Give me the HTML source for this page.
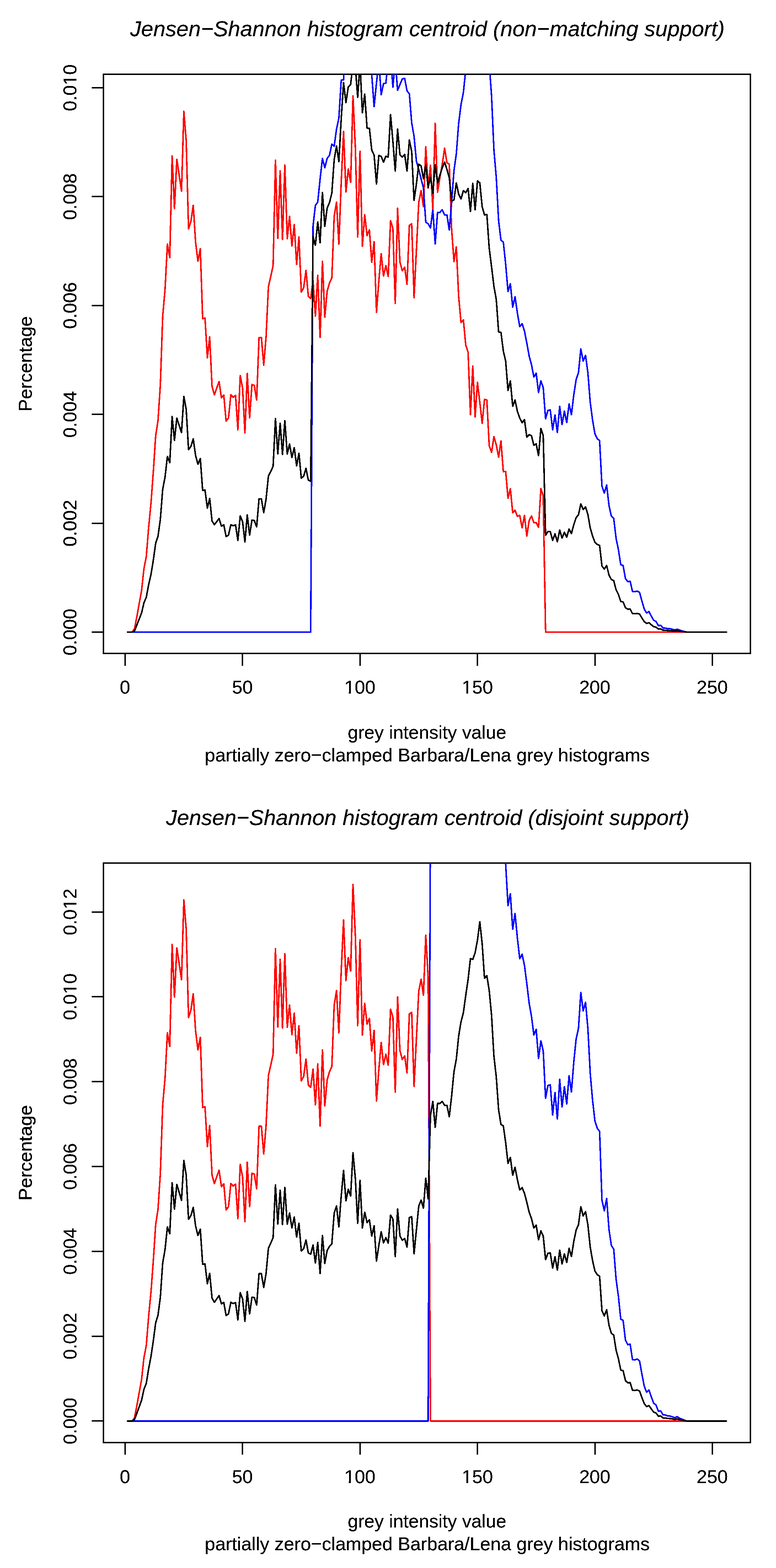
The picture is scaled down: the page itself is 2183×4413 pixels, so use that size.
<!DOCTYPE html><html><head><meta charset="utf-8"><title>Jensen-Shannon histogram centroid</title><style>html,body{margin:0;padding:0;background:#fff;overflow:hidden}svg{display:block}text{font-family:"Liberation Sans", Arial, Helvetica, sans-serif;fill:#000}</style></head><body>
<svg width="2183" height="4413" viewBox="0 0 2183 4413">
<rect width="2183" height="4413" fill="#fff"/>
<defs><filter id="bin" x="0" y="0" width="2183" height="4413" filterUnits="userSpaceOnUse"><feComponentTransfer><feFuncA type="discrete" tableValues="0 1 1"/></feComponentTransfer></filter>
<clipPath id="c0"><rect x="291.0" y="208.9" width="1819.9" height="1630.1"/></clipPath>
<clipPath id="c1"><rect x="291.0" y="2428.9" width="1819.9" height="1631.0"/></clipPath>
</defs>
<g clip-path="url(#c0)">
<polyline points="358.6,1778.9 365.2,1778.9 371.8,1778.9 378.4,1769.7 385.0,1735.5 391.6,1698.8 398.3,1662.0 404.9,1600.7 411.5,1567.0 418.1,1484.9 424.7,1416.6 431.3,1327.9 437.9,1226.6 444.5,1183.7 451.1,1082.5 457.7,889.6 464.3,814.6 470.9,686.9 477.6,725.2 484.2,438.6 490.8,586.8 497.4,448.5 504.0,492.2 510.6,538.0 517.2,313.3 523.8,395.6 530.4,644.2 537.0,623.6 543.6,577.7 550.2,681.5 556.8,735.1 563.5,699.9 570.1,897.2 576.7,894.8 583.3,1007.2 589.9,948.2 596.5,1087.6 603.1,1111.2 609.7,1092.1 616.3,1073.7 622.9,1119.7 629.5,1111.9 636.1,1185.3 642.8,1176.1 649.4,1111.2 656.0,1118.1 662.6,1112.7 669.2,1209.7 675.8,1056.9 682.4,1092.1 689.0,1218.2 695.6,1050.8 702.2,1176.1 708.8,1082.2 715.4,1084.5 722.0,1125.7 728.7,949.9 735.3,949.9 741.9,1027.8 748.5,948.0 755.1,807.0 761.7,778.1 768.3,747.3 774.9,450.9 781.5,670.9 788.1,480.6 794.7,673.9 801.3,464.6 808.0,671.6 814.6,609.0 821.2,692.3 827.8,631.9 834.4,744.3 841.0,667.1 847.6,822.2 854.2,809.9 860.8,761.1 867.4,833.7 874.0,840.3 880.6,789.3 887.2,889.8 893.9,774.8 900.5,949.5 907.1,735.5 913.7,892.7 920.3,819.9 926.9,796.6 933.5,782.0 940.1,609.0 946.7,568.7 953.3,687.4 959.9,512.9 966.5,370.0 973.2,540.2 979.8,475.5 986.4,513.3 993.0,270.0 999.6,412.3 1006.2,667.0 1012.8,425.7 1019.4,693.2 1026.0,604.3 1032.6,662.7 1039.2,646.7 1045.8,738.4 1052.4,680.4 1059.1,879.1 1065.7,791.3 1072.3,714.1 1078.9,776.7 1085.5,747.6 1092.1,778.2 1098.7,621.0 1105.3,642.8 1111.9,853.9 1118.5,586.0 1125.1,737.4 1131.7,762.2 1138.4,752.0 1145.0,800.0 1151.6,634.1 1158.2,629.7 1164.8,837.9 1171.4,704.0 1178.0,570.0 1184.6,536.5 1191.2,581.7 1197.8,412.8 1204.4,529.3 1211.0,465.2 1217.6,587.5 1224.3,347.3 1230.9,540.9 1237.5,500.1 1244.1,462.3 1250.7,417.2 1257.3,457.9 1263.9,462.3 1270.5,645.7 1277.1,736.0 1283.7,695.2 1290.3,835.0 1296.9,907.5 1303.6,900.4 1310.2,970.9 1316.8,991.3 1323.4,1167.1 1330.0,1030.5 1336.6,1173.4 1343.2,1076.1 1349.8,1132.6 1356.4,1191.4 1363.0,1123.9 1369.6,1125.5 1376.2,1253.9 1382.8,1273.3 1389.5,1228.8 1396.1,1252.0 1402.7,1286.6 1409.3,1240.7 1415.9,1327.5 1422.5,1326.7 1429.1,1402.4 1435.7,1375.5 1442.3,1443.2 1448.9,1436.0 1455.5,1453.4 1462.1,1450.5 1468.8,1485.5 1475.4,1450.5 1482.0,1508.8 1488.6,1465.1 1495.2,1452.0 1501.8,1470.9 1508.4,1470.9 1515.0,1484.0 1521.6,1374.8 1528.2,1395.2 1534.8,1778.9 1541.4,1778.9 1548.0,1778.9 1554.7,1778.9 1561.3,1778.9 1567.9,1778.9 1574.5,1778.9 1581.1,1778.9 1587.7,1778.9 1594.3,1778.9 1600.9,1778.9 1607.5,1778.9 1614.1,1778.9 1620.7,1778.9 1627.3,1778.9 1634.0,1778.9 1640.6,1778.9 1647.2,1778.9 1653.8,1778.9 1660.4,1778.9 1667.0,1778.9 1673.6,1778.9 1680.2,1778.9 1686.8,1778.9 1693.4,1778.9 1700.0,1778.9 1706.6,1778.9 1713.2,1778.9 1719.9,1778.9 1726.5,1778.9 1733.1,1778.9 1739.7,1778.9 1746.3,1778.9 1752.9,1778.9 1759.5,1778.9 1766.1,1778.9 1772.7,1778.9 1779.3,1778.9 1785.9,1778.9 1792.5,1778.9 1799.2,1778.9 1805.8,1778.9 1812.4,1778.9 1819.0,1778.9 1825.6,1778.9 1832.2,1778.9 1838.8,1778.9 1845.4,1778.9 1852.0,1778.9 1858.6,1778.9 1865.2,1778.9 1871.8,1778.9 1878.4,1778.9 1885.1,1778.9 1891.7,1778.9 1898.3,1778.9 1904.9,1778.9 1911.5,1778.9 1918.1,1778.9 1924.7,1778.9 1931.3,1778.9 1937.9,1778.9 1944.5,1778.9 1951.1,1778.9 1957.7,1778.9 1964.4,1778.9 1971.0,1778.9 1977.6,1778.9 1984.2,1778.9 1990.8,1778.9 1997.4,1778.9 2004.0,1778.9 2010.6,1778.9 2017.2,1778.9 2023.8,1778.9 2030.4,1778.9 2037.0,1778.9 2043.6,1778.9" fill="none" stroke="#ff0000" stroke-width="4.3" stroke-linejoin="round" stroke-linecap="round" shape-rendering="crispEdges"/>
</g>
<rect x="291.0" y="208.9" width="1819.9" height="1630.1" fill="none" stroke="#000" stroke-width="4.0" shape-rendering="crispEdges"/>
<g clip-path="url(#c0)">
<polyline points="358.6,1778.9 365.2,1778.9 371.8,1778.9 378.4,1778.9 385.0,1778.9 391.6,1778.9 398.3,1778.9 404.9,1778.9 411.5,1778.9 418.1,1778.9 424.7,1778.9 431.3,1778.9 437.9,1778.9 444.5,1778.9 451.1,1778.9 457.7,1778.9 464.3,1778.9 470.9,1778.9 477.6,1778.9 484.2,1778.9 490.8,1778.9 497.4,1778.9 504.0,1778.9 510.6,1778.9 517.2,1778.9 523.8,1778.9 530.4,1778.9 537.0,1778.9 543.6,1778.9 550.2,1778.9 556.8,1778.9 563.5,1778.9 570.1,1778.9 576.7,1778.9 583.3,1778.9 589.9,1778.9 596.5,1778.9 603.1,1778.9 609.7,1778.9 616.3,1778.9 622.9,1778.9 629.5,1778.9 636.1,1778.9 642.8,1778.9 649.4,1778.9 656.0,1778.9 662.6,1778.9 669.2,1778.9 675.8,1778.9 682.4,1778.9 689.0,1778.9 695.6,1778.9 702.2,1778.9 708.8,1778.9 715.4,1778.9 722.0,1778.9 728.7,1778.9 735.3,1778.9 741.9,1778.9 748.5,1778.9 755.1,1778.9 761.7,1778.9 768.3,1778.9 774.9,1778.9 781.5,1778.9 788.1,1778.9 794.7,1778.9 801.3,1778.9 808.0,1778.9 814.6,1778.9 821.2,1778.9 827.8,1778.9 834.4,1778.9 841.0,1778.9 847.6,1778.9 854.2,1778.9 860.8,1778.9 867.4,1778.9 874.0,1778.9 880.6,636.5 887.2,578.1 893.9,568.7 900.5,503.7 907.1,445.8 913.7,471.9 920.3,445.8 926.9,437.1 933.5,405.6 940.1,411.5 946.7,363.3 953.3,332.6 959.9,225.7 966.5,224.9 973.2,63.1 979.8,17.1 986.4,-28.9 993.0,-59.5 999.6,-28.9 1006.2,17.1 1012.8,47.7 1019.4,63.1 1026.0,93.7 1032.6,124.3 1039.2,155.0 1045.8,210.2 1052.4,300.0 1059.1,233.7 1065.7,170.3 1072.3,266.5 1078.9,235.2 1085.5,234.1 1092.1,170.3 1098.7,155.0 1105.3,245.4 1111.9,170.3 1118.5,254.1 1125.1,238.1 1131.7,222.1 1138.4,220.6 1145.0,255.6 1151.6,264.3 1158.2,345.8 1164.8,383.7 1171.4,453.6 1178.0,476.9 1184.6,503.1 1191.2,529.3 1197.8,625.3 1204.4,629.7 1211.0,641.4 1217.6,590.4 1224.3,686.5 1230.9,597.7 1237.5,597.7 1244.1,590.4 1250.7,605.0 1257.3,605.0 1263.9,647.2 1270.5,570.0 1277.1,479.8 1283.7,433.2 1290.3,347.1 1296.9,294.4 1303.6,260.0 1310.2,196.1 1316.8,136.9 1323.4,59.2 1330.0,62.3 1336.6,37.4 1343.2,-9.3 1349.8,-77.7 1356.4,3.2 1363.0,132.3 1369.6,122.9 1376.2,177.4 1382.8,269.7 1389.5,422.5 1396.1,499.3 1402.7,621.5 1409.3,676.3 1415.9,681.0 1422.5,743.0 1429.1,820.4 1435.7,798.6 1442.3,864.5 1448.9,835.3 1455.5,881.0 1462.1,919.3 1468.8,910.9 1475.4,931.8 1482.0,965.3 1488.6,1002.0 1495.2,1026.5 1501.8,1061.0 1508.4,1050.5 1515.0,1104.7 1521.6,1072.0 1528.2,1090.9 1534.8,1178.7 1541.4,1155.0 1548.0,1153.6 1554.7,1209.7 1561.3,1168.0 1567.9,1217.4 1574.5,1143.5 1581.1,1194.8 1587.7,1157.3 1594.3,1189.3 1600.9,1136.8 1607.5,1167.0 1614.1,1111.6 1620.7,1068.7 1627.3,1049.0 1634.0,982.2 1640.6,1016.1 1647.2,1000.2 1653.8,1048.7 1660.4,1132.1 1667.0,1182.5 1673.6,1220.9 1680.2,1234.5 1686.8,1240.4 1693.4,1368.2 1700.0,1387.9 1706.6,1365.1 1713.2,1422.7 1719.9,1452.8 1726.5,1459.1 1733.1,1514.8 1739.7,1547.1 1746.3,1589.3 1752.9,1591.6 1759.5,1628.4 1766.1,1637.0 1772.7,1635.7 1779.3,1664.7 1785.9,1665.3 1792.5,1663.5 1799.2,1667.3 1805.8,1691.7 1812.4,1714.1 1819.0,1725.3 1825.6,1721.2 1832.2,1733.9 1838.8,1745.7 1845.4,1749.0 1852.0,1760.7 1858.6,1760.1 1865.2,1767.5 1871.8,1767.7 1878.4,1769.5 1885.1,1769.6 1891.7,1771.1 1898.3,1772.9 1904.9,1770.8 1911.5,1773.3 1918.1,1775.4 1924.7,1777.1 1931.3,1778.9 1937.9,1778.9 1944.5,1778.9 1951.1,1778.9 1957.7,1778.9 1964.4,1778.9 1971.0,1778.9 1977.6,1778.9 1984.2,1778.9 1990.8,1778.9 1997.4,1778.9 2004.0,1778.9 2010.6,1778.9 2017.2,1778.9 2023.8,1778.9 2030.4,1778.9 2037.0,1778.9 2043.6,1778.9" fill="none" stroke="#0000ff" stroke-width="4.3" stroke-linejoin="round" stroke-linecap="round" shape-rendering="crispEdges"/>
<polyline points="358.6,1778.9 365.2,1778.9 371.8,1778.9 378.4,1775.8 385.0,1759.2 391.6,1742.2 398.3,1725.1 404.9,1696.7 411.5,1681.0 418.1,1645.7 424.7,1617.2 431.3,1576.7 437.9,1529.1 444.5,1509.2 451.1,1461.5 457.7,1377.1 464.3,1342.7 470.9,1284.7 477.6,1302.1 484.2,1172.4 490.8,1239.5 497.4,1176.9 504.0,1196.9 510.6,1217.5 517.2,1115.7 523.8,1151.8 530.4,1265.5 537.0,1256.5 543.6,1235.2 550.2,1282.0 556.8,1306.5 563.5,1290.5 570.1,1380.3 576.7,1379.0 583.3,1429.9 589.9,1402.8 596.5,1466.3 603.1,1476.7 609.7,1468.1 616.3,1459.5 622.9,1480.8 629.5,1476.9 636.1,1510.3 642.8,1506.0 649.4,1476.7 656.0,1479.8 662.6,1477.1 669.2,1520.9 675.8,1452.1 682.4,1468.1 689.0,1525.0 695.6,1449.3 702.2,1506.0 708.8,1463.6 715.4,1464.9 722.0,1482.9 728.7,1403.8 735.3,1403.8 741.9,1442.6 748.5,1404.9 755.1,1339.5 761.7,1327.1 768.3,1312.2 774.9,1178.1 781.5,1277.4 788.1,1191.4 794.7,1278.8 801.3,1184.1 808.0,1277.6 814.6,1249.6 821.2,1287.4 827.8,1259.9 834.4,1310.8 841.0,1275.8 847.6,1345.8 854.2,1340.2 860.8,1318.2 867.4,1351.4 874.0,1354.4 880.6,665.6 887.2,690.3 893.9,624.8 900.5,683.1 907.1,541.8 913.7,637.3 920.3,585.9 926.9,570.3 933.5,543.4 940.1,449.4 946.7,410.7 953.3,454.9 959.9,334.5 966.5,232.6 973.2,288.8 979.8,244.7 986.4,237.8 993.0,179.1 999.6,187.7 1006.2,274.1 1012.8,179.1 1019.4,317.5 1026.0,264.6 1032.6,360.6 1039.2,360.9 1045.8,422.5 1052.4,436.5 1059.1,517.8 1065.7,437.4 1072.3,440.2 1078.9,456.4 1085.5,439.7 1092.1,442.2 1098.7,322.5 1105.3,398.2 1111.9,481.2 1118.5,363.3 1125.1,436.1 1131.7,441.9 1138.4,434.6 1145.0,481.2 1151.6,393.9 1158.2,427.4 1164.8,564.2 1171.4,517.6 1178.0,462.3 1184.6,466.7 1191.2,503.1 1197.8,465.2 1204.4,527.8 1211.0,498.7 1217.6,543.8 1224.3,463.8 1230.9,514.7 1237.5,492.9 1244.1,472.5 1250.7,456.5 1257.3,476.9 1263.9,500.1 1270.5,565.7 1277.1,562.7 1283.7,514.7 1290.3,546.7 1296.9,559.8 1303.6,536.5 1310.2,542.4 1316.8,530.7 1323.4,594.8 1330.0,516.2 1336.6,590.4 1343.2,508.9 1349.8,514.7 1356.4,581.7 1363.0,605.0 1369.6,603.5 1376.2,698.1 1382.8,750.5 1389.5,805.9 1396.1,842.9 1402.7,934.2 1409.3,935.4 1415.9,987.9 1422.5,1015.8 1429.1,1098.7 1435.7,1071.8 1442.3,1143.4 1448.9,1125.8 1455.5,1157.8 1462.1,1176.7 1468.8,1189.7 1475.4,1181.2 1482.0,1230.0 1488.6,1223.4 1495.2,1226.3 1501.8,1253.3 1508.4,1248.9 1515.0,1282.4 1521.6,1206.0 1528.2,1226.3 1534.8,1506.4 1541.4,1496.0 1548.0,1496.4 1554.7,1520.7 1561.3,1502.5 1567.9,1524.6 1574.5,1491.9 1581.1,1514.4 1587.7,1497.9 1594.3,1511.7 1600.9,1488.9 1607.5,1501.6 1614.1,1476.7 1620.7,1456.8 1627.3,1448.7 1634.0,1418.2 1640.6,1433.9 1647.2,1426.7 1653.8,1447.9 1660.4,1485.7 1667.0,1508.7 1673.6,1526.2 1680.2,1532.2 1686.8,1535.0 1693.4,1593.0 1700.0,1601.8 1706.6,1591.6 1713.2,1618.5 1719.9,1631.1 1726.5,1634.0 1733.1,1659.7 1739.7,1672.9 1746.3,1692.8 1752.9,1694.1 1759.5,1710.6 1766.1,1714.5 1772.7,1714.2 1779.3,1727.0 1785.9,1727.1 1792.5,1726.5 1799.2,1728.2 1805.8,1739.4 1812.4,1749.5 1819.0,1754.6 1825.6,1752.6 1832.2,1758.4 1838.8,1763.6 1845.4,1764.9 1852.0,1770.4 1858.6,1770.2 1865.2,1773.5 1871.8,1773.9 1878.4,1774.6 1885.1,1774.9 1891.7,1775.6 1898.3,1776.4 1904.9,1775.2 1911.5,1776.4 1918.1,1777.3 1924.7,1778.1 1931.3,1778.9 1937.9,1778.9 1944.5,1778.9 1951.1,1778.9 1957.7,1778.9 1964.4,1778.9 1971.0,1778.9 1977.6,1778.9 1984.2,1778.9 1990.8,1778.9 1997.4,1778.9 2004.0,1778.9 2010.6,1778.9 2017.2,1778.9 2023.8,1778.9 2030.4,1778.9 2037.0,1778.9 2043.6,1778.9" fill="none" stroke="#000000" stroke-width="4.3" stroke-linejoin="round" stroke-linecap="round" shape-rendering="crispEdges"/>
</g>
<line x1="352.0" y1="1839.0" x2="352.0" y2="1873.5" stroke="#000" stroke-width="4.0" shape-rendering="crispEdges"/>
<line x1="682.4" y1="1839.0" x2="682.4" y2="1873.5" stroke="#000" stroke-width="4.0" shape-rendering="crispEdges"/>
<line x1="1012.8" y1="1839.0" x2="1012.8" y2="1873.5" stroke="#000" stroke-width="4.0" shape-rendering="crispEdges"/>
<line x1="1343.2" y1="1839.0" x2="1343.2" y2="1873.5" stroke="#000" stroke-width="4.0" shape-rendering="crispEdges"/>
<line x1="1673.6" y1="1839.0" x2="1673.6" y2="1873.5" stroke="#000" stroke-width="4.0" shape-rendering="crispEdges"/>
<line x1="2004.0" y1="1839.0" x2="2004.0" y2="1873.5" stroke="#000" stroke-width="4.0" shape-rendering="crispEdges"/>
<line x1="291.0" y1="1778.9" x2="258.0" y2="1778.9" stroke="#000" stroke-width="4.0" shape-rendering="crispEdges"/>
<line x1="291.0" y1="1472.5" x2="258.0" y2="1472.5" stroke="#000" stroke-width="4.0" shape-rendering="crispEdges"/>
<line x1="291.0" y1="1166.1" x2="258.0" y2="1166.1" stroke="#000" stroke-width="4.0" shape-rendering="crispEdges"/>
<line x1="291.0" y1="859.7" x2="258.0" y2="859.7" stroke="#000" stroke-width="4.0" shape-rendering="crispEdges"/>
<line x1="291.0" y1="553.3" x2="258.0" y2="553.3" stroke="#000" stroke-width="4.0" shape-rendering="crispEdges"/>
<line x1="291.0" y1="246.9" x2="258.0" y2="246.9" stroke="#000" stroke-width="4.0" shape-rendering="crispEdges"/>
<g clip-path="url(#c1)">
<polyline points="358.6,3999.4 365.2,3999.4 371.8,3999.4 378.4,3990.2 385.0,3956.0 391.6,3919.2 398.3,3882.4 404.9,3821.1 411.5,3787.3 418.1,3705.1 424.7,3636.8 431.3,3548.0 437.9,3446.7 444.5,3403.7 451.1,3302.4 457.7,3109.3 464.3,3034.3 470.9,2906.5 477.6,2944.8 484.2,2658.0 490.8,2806.3 497.4,2667.9 504.0,2711.5 510.6,2757.4 517.2,2532.5 523.8,2614.9 530.4,2863.7 537.0,2843.1 543.6,2797.1 550.2,2901.1 556.8,2954.7 563.5,2919.5 570.1,3116.9 576.7,3114.6 583.3,3227.0 589.9,3168.0 596.5,3307.5 603.1,3331.1 609.7,3312.0 616.3,3293.6 622.9,3339.6 629.5,3331.9 636.1,3405.3 642.8,3396.1 649.4,3331.1 656.0,3338.0 662.6,3332.6 669.2,3429.7 675.8,3276.8 682.4,3312.0 689.0,3438.2 695.6,3270.7 702.2,3396.1 708.8,3302.1 715.4,3304.4 722.0,3345.6 728.7,3169.6 735.3,3169.6 741.9,3247.7 748.5,3167.8 755.1,3026.7 761.7,2997.8 768.3,2967.0 774.9,2670.2 781.5,2890.4 788.1,2700.0 794.7,2893.5 801.3,2683.9 808.0,2891.2 814.6,2828.5 821.2,2911.9 827.8,2851.4 834.4,2963.9 841.0,2886.6 847.6,3041.9 854.2,3029.6 860.8,2980.7 867.4,3053.4 874.0,3060.0 880.6,3009.0 887.2,3109.5 893.9,2994.4 900.5,3169.2 907.1,2955.1 913.7,3112.4 920.3,3039.6 926.9,3016.3 933.5,3001.7 940.1,2828.5 946.7,2788.2 953.3,2907.0 959.9,2732.3 966.5,2589.3 973.2,2759.6 979.8,2694.9 986.4,2732.7 993.0,2489.2 999.6,2631.6 1006.2,2886.6 1012.8,2645.0 1019.4,2912.8 1026.0,2823.8 1032.6,2882.2 1039.2,2866.2 1045.8,2958.0 1052.4,2900.0 1059.1,3098.8 1065.7,3010.9 1072.3,2933.7 1078.9,2996.4 1085.5,2967.2 1092.1,2997.8 1098.7,2840.5 1105.3,2862.3 1111.9,3073.6 1118.5,2805.5 1125.1,2957.0 1131.7,2981.8 1138.4,2971.6 1145.0,3019.7 1151.6,2853.6 1158.2,2849.2 1164.8,3057.6 1171.4,2923.5 1178.0,2789.5 1184.6,2756.0 1191.2,2801.1 1197.8,2632.1 1204.4,2748.7 1211.0,3999.4 1217.6,3999.4 1224.3,3999.4 1230.9,3999.4 1237.5,3999.4 1244.1,3999.4 1250.7,3999.4 1257.3,3999.4 1263.9,3999.4 1270.5,3999.4 1277.1,3999.4 1283.7,3999.4 1290.3,3999.4 1296.9,3999.4 1303.6,3999.4 1310.2,3999.4 1316.8,3999.4 1323.4,3999.4 1330.0,3999.4 1336.6,3999.4 1343.2,3999.4 1349.8,3999.4 1356.4,3999.4 1363.0,3999.4 1369.6,3999.4 1376.2,3999.4 1382.8,3999.4 1389.5,3999.4 1396.1,3999.4 1402.7,3999.4 1409.3,3999.4 1415.9,3999.4 1422.5,3999.4 1429.1,3999.4 1435.7,3999.4 1442.3,3999.4 1448.9,3999.4 1455.5,3999.4 1462.1,3999.4 1468.8,3999.4 1475.4,3999.4 1482.0,3999.4 1488.6,3999.4 1495.2,3999.4 1501.8,3999.4 1508.4,3999.4 1515.0,3999.4 1521.6,3999.4 1528.2,3999.4 1534.8,3999.4 1541.4,3999.4 1548.0,3999.4 1554.7,3999.4 1561.3,3999.4 1567.9,3999.4 1574.5,3999.4 1581.1,3999.4 1587.7,3999.4 1594.3,3999.4 1600.9,3999.4 1607.5,3999.4 1614.1,3999.4 1620.7,3999.4 1627.3,3999.4 1634.0,3999.4 1640.6,3999.4 1647.2,3999.4 1653.8,3999.4 1660.4,3999.4 1667.0,3999.4 1673.6,3999.4 1680.2,3999.4 1686.8,3999.4 1693.4,3999.4 1700.0,3999.4 1706.6,3999.4 1713.2,3999.4 1719.9,3999.4 1726.5,3999.4 1733.1,3999.4 1739.7,3999.4 1746.3,3999.4 1752.9,3999.4 1759.5,3999.4 1766.1,3999.4 1772.7,3999.4 1779.3,3999.4 1785.9,3999.4 1792.5,3999.4 1799.2,3999.4 1805.8,3999.4 1812.4,3999.4 1819.0,3999.4 1825.6,3999.4 1832.2,3999.4 1838.8,3999.4 1845.4,3999.4 1852.0,3999.4 1858.6,3999.4 1865.2,3999.4 1871.8,3999.4 1878.4,3999.4 1885.1,3999.4 1891.7,3999.4 1898.3,3999.4 1904.9,3999.4 1911.5,3999.4 1918.1,3999.4 1924.7,3999.4 1931.3,3999.4 1937.9,3999.4 1944.5,3999.4 1951.1,3999.4 1957.7,3999.4 1964.4,3999.4 1971.0,3999.4 1977.6,3999.4 1984.2,3999.4 1990.8,3999.4 1997.4,3999.4 2004.0,3999.4 2010.6,3999.4 2017.2,3999.4 2023.8,3999.4 2030.4,3999.4 2037.0,3999.4 2043.6,3999.4" fill="none" stroke="#ff0000" stroke-width="4.3" stroke-linejoin="round" stroke-linecap="round" shape-rendering="crispEdges"/>
</g>
<rect x="291.0" y="2428.9" width="1819.9" height="1631.0" fill="none" stroke="#000" stroke-width="4.0" shape-rendering="crispEdges"/>
<g clip-path="url(#c1)">
<polyline points="358.6,3999.4 365.2,3999.4 371.8,3999.4 378.4,3999.4 385.0,3999.4 391.6,3999.4 398.3,3999.4 404.9,3999.4 411.5,3999.4 418.1,3999.4 424.7,3999.4 431.3,3999.4 437.9,3999.4 444.5,3999.4 451.1,3999.4 457.7,3999.4 464.3,3999.4 470.9,3999.4 477.6,3999.4 484.2,3999.4 490.8,3999.4 497.4,3999.4 504.0,3999.4 510.6,3999.4 517.2,3999.4 523.8,3999.4 530.4,3999.4 537.0,3999.4 543.6,3999.4 550.2,3999.4 556.8,3999.4 563.5,3999.4 570.1,3999.4 576.7,3999.4 583.3,3999.4 589.9,3999.4 596.5,3999.4 603.1,3999.4 609.7,3999.4 616.3,3999.4 622.9,3999.4 629.5,3999.4 636.1,3999.4 642.8,3999.4 649.4,3999.4 656.0,3999.4 662.6,3999.4 669.2,3999.4 675.8,3999.4 682.4,3999.4 689.0,3999.4 695.6,3999.4 702.2,3999.4 708.8,3999.4 715.4,3999.4 722.0,3999.4 728.7,3999.4 735.3,3999.4 741.9,3999.4 748.5,3999.4 755.1,3999.4 761.7,3999.4 768.3,3999.4 774.9,3999.4 781.5,3999.4 788.1,3999.4 794.7,3999.4 801.3,3999.4 808.0,3999.4 814.6,3999.4 821.2,3999.4 827.8,3999.4 834.4,3999.4 841.0,3999.4 847.6,3999.4 854.2,3999.4 860.8,3999.4 867.4,3999.4 874.0,3999.4 880.6,3999.4 887.2,3999.4 893.9,3999.4 900.5,3999.4 907.1,3999.4 913.7,3999.4 920.3,3999.4 926.9,3999.4 933.5,3999.4 940.1,3999.4 946.7,3999.4 953.3,3999.4 959.9,3999.4 966.5,3999.4 973.2,3999.4 979.8,3999.4 986.4,3999.4 993.0,3999.4 999.6,3999.4 1006.2,3999.4 1012.8,3999.4 1019.4,3999.4 1026.0,3999.4 1032.6,3999.4 1039.2,3999.4 1045.8,3999.4 1052.4,3999.4 1059.1,3999.4 1065.7,3999.4 1072.3,3999.4 1078.9,3999.4 1085.5,3999.4 1092.1,3999.4 1098.7,3999.4 1105.3,3999.4 1111.9,3999.4 1118.5,3999.4 1125.1,3999.4 1131.7,3999.4 1138.4,3999.4 1145.0,3999.4 1151.6,3999.4 1158.2,3999.4 1164.8,3999.4 1171.4,3999.4 1178.0,3999.4 1184.6,3999.4 1191.2,3999.4 1197.8,3999.4 1204.4,3999.4 1211.0,2277.6 1217.6,2200.4 1224.3,2345.9 1230.9,2211.5 1237.5,2211.5 1244.1,2200.4 1250.7,2222.5 1257.3,2222.5 1263.9,2286.4 1270.5,2169.6 1277.1,2033.0 1283.7,1962.5 1290.3,1832.1 1296.9,1752.4 1303.6,1700.3 1310.2,1603.6 1316.8,1514.1 1323.4,1396.3 1330.0,1401.0 1336.6,1363.4 1343.2,1292.7 1349.8,1189.1 1356.4,1311.6 1363.0,1507.0 1369.6,1492.9 1376.2,1575.3 1382.8,1715.1 1389.5,1946.2 1396.1,2062.6 1402.7,2247.5 1409.3,2330.5 1415.9,2337.5 1422.5,2431.5 1429.1,2548.6 1435.7,2515.5 1442.3,2615.3 1448.9,2571.1 1455.5,2640.3 1462.1,2698.3 1468.8,2685.6 1475.4,2717.2 1482.0,2768.0 1488.6,2823.5 1495.2,2860.6 1501.8,2912.8 1508.4,2896.9 1515.0,2978.9 1521.6,2929.4 1528.2,2957.9 1534.8,3090.9 1541.4,3055.1 1548.0,3053.0 1554.7,3137.8 1561.3,3074.7 1567.9,3149.4 1574.5,3037.6 1581.1,3115.3 1587.7,3058.5 1594.3,3107.0 1600.9,3027.5 1607.5,3073.2 1614.1,2989.4 1620.7,2924.4 1627.3,2894.6 1634.0,2793.5 1640.6,2844.7 1647.2,2820.8 1653.8,2894.2 1660.4,3020.4 1667.0,3096.6 1673.6,3154.8 1680.2,3175.3 1686.8,3184.3 1693.4,3377.8 1700.0,3407.5 1706.6,3373.1 1713.2,3460.3 1719.9,3505.7 1726.5,3515.3 1733.1,3599.6 1739.7,3648.6 1746.3,3712.5 1752.9,3715.9 1759.5,3771.7 1766.1,3784.6 1772.7,3782.7 1779.3,3826.5 1785.9,3827.4 1792.5,3824.7 1799.2,3830.5 1805.8,3867.4 1812.4,3901.3 1819.0,3918.3 1825.6,3912.1 1832.2,3931.2 1838.8,3949.1 1845.4,3954.1 1852.0,3971.9 1858.6,3970.9 1865.2,3982.1 1871.8,3982.4 1878.4,3985.1 1885.1,3985.4 1891.7,3987.6 1898.3,3990.4 1904.9,3987.2 1911.5,3991.0 1918.1,3994.1 1924.7,3996.6 1931.3,3999.4 1937.9,3999.4 1944.5,3999.4 1951.1,3999.4 1957.7,3999.4 1964.4,3999.4 1971.0,3999.4 1977.6,3999.4 1984.2,3999.4 1990.8,3999.4 1997.4,3999.4 2004.0,3999.4 2010.6,3999.4 2017.2,3999.4 2023.8,3999.4 2030.4,3999.4 2037.0,3999.4 2043.6,3999.4" fill="none" stroke="#0000ff" stroke-width="4.3" stroke-linejoin="round" stroke-linecap="round" shape-rendering="crispEdges"/>
<polyline points="358.6,3999.4 365.2,3999.4 371.8,3999.4 378.4,3994.8 385.0,3977.7 391.6,3959.3 398.3,3940.9 404.9,3910.2 411.5,3893.4 418.1,3852.3 424.7,3818.1 431.3,3773.7 437.9,3723.0 444.5,3701.6 451.1,3650.9 457.7,3554.4 464.3,3516.8 470.9,3452.9 477.6,3472.1 484.2,3328.7 490.8,3402.9 497.4,3333.6 504.0,3355.5 510.6,3378.4 517.2,3266.0 523.8,3307.1 530.4,3431.6 537.0,3421.3 543.6,3398.3 550.2,3450.2 556.8,3477.0 563.5,3459.4 570.1,3558.2 576.7,3557.0 583.3,3613.2 589.9,3583.7 596.5,3653.4 603.1,3665.3 609.7,3655.7 616.3,3646.5 622.9,3669.5 629.5,3665.6 636.1,3702.4 642.8,3697.8 649.4,3665.3 656.0,3668.7 662.6,3666.0 669.2,3714.6 675.8,3638.1 682.4,3655.7 689.0,3718.8 695.6,3635.0 702.2,3697.8 708.8,3650.7 715.4,3651.9 722.0,3672.5 728.7,3584.5 735.3,3584.5 741.9,3623.5 748.5,3583.6 755.1,3513.0 761.7,3498.6 768.3,3483.2 774.9,3334.8 781.5,3444.9 788.1,3349.7 794.7,3446.4 801.3,3341.7 808.0,3445.3 814.6,3414.0 821.2,3455.6 827.8,3425.4 834.4,3481.6 841.0,3443.0 847.6,3520.6 854.2,3514.5 860.8,3490.0 867.4,3526.4 874.0,3529.7 880.6,3504.2 887.2,3554.5 893.9,3496.9 900.5,3584.3 907.1,3477.2 913.7,3555.9 920.3,3519.5 926.9,3507.8 933.5,3500.5 940.1,3414.0 946.7,3393.8 953.3,3453.2 959.9,3365.9 966.5,3294.3 973.2,3379.5 979.8,3347.1 986.4,3366.0 993.0,3244.3 999.6,3315.5 1006.2,3443.0 1012.8,3322.2 1019.4,3456.1 1026.0,3411.6 1032.6,3440.8 1039.2,3432.8 1045.8,3478.7 1052.4,3449.7 1059.1,3549.1 1065.7,3505.2 1072.3,3466.6 1078.9,3497.9 1085.5,3483.3 1092.1,3498.6 1098.7,3419.9 1105.3,3430.9 1111.9,3536.5 1118.5,3402.5 1125.1,3478.2 1131.7,3490.6 1138.4,3485.5 1145.0,3509.5 1151.6,3426.5 1158.2,3424.3 1164.8,3528.5 1171.4,3461.5 1178.0,3394.4 1184.6,3377.7 1191.2,3400.3 1197.8,3315.8 1204.4,3374.0 1211.0,3138.5 1217.6,3099.9 1224.3,3172.6 1230.9,3105.4 1237.5,3105.4 1244.1,3099.9 1250.7,3110.9 1257.3,3110.9 1263.9,3142.9 1270.5,3084.5 1277.1,3016.2 1283.7,2980.9 1290.3,2915.8 1296.9,2875.9 1303.6,2849.8 1310.2,2801.5 1316.8,2756.7 1323.4,2697.9 1330.0,2700.2 1336.6,2681.4 1343.2,2646.1 1349.8,2594.3 1356.4,2655.5 1363.0,2753.2 1369.6,2746.1 1376.2,2787.3 1382.8,2857.2 1389.5,2972.8 1396.1,3031.0 1402.7,3123.5 1409.3,3164.9 1415.9,3168.5 1422.5,3215.4 1429.1,3274.0 1435.7,3257.5 1442.3,3307.4 1448.9,3285.3 1455.5,3319.8 1462.1,3348.8 1468.8,3342.5 1475.4,3358.3 1482.0,3383.7 1488.6,3411.4 1495.2,3430.0 1501.8,3456.1 1508.4,3448.1 1515.0,3489.2 1521.6,3464.4 1528.2,3478.7 1534.8,3545.1 1541.4,3527.3 1548.0,3526.2 1554.7,3568.6 1561.3,3537.0 1567.9,3574.4 1574.5,3518.5 1581.1,3557.3 1587.7,3529.0 1594.3,3553.2 1600.9,3513.5 1607.5,3536.3 1614.1,3494.4 1620.7,3461.9 1627.3,3447.0 1634.0,3396.5 1640.6,3422.1 1647.2,3410.1 1653.8,3446.8 1660.4,3509.9 1667.0,3548.0 1673.6,3577.1 1680.2,3587.4 1686.8,3591.9 1693.4,3688.6 1700.0,3703.5 1706.6,3686.2 1713.2,3729.8 1719.9,3752.6 1726.5,3757.4 1733.1,3799.5 1739.7,3824.0 1746.3,3855.9 1752.9,3857.6 1759.5,3885.5 1766.1,3892.0 1772.7,3891.1 1779.3,3912.9 1785.9,3913.4 1792.5,3912.1 1799.2,3914.9 1805.8,3933.4 1812.4,3950.4 1819.0,3958.8 1825.6,3955.7 1832.2,3965.3 1838.8,3974.3 1845.4,3976.7 1852.0,3985.6 1858.6,3985.2 1865.2,3990.7 1871.8,3990.9 1878.4,3992.3 1885.1,3992.4 1891.7,3993.5 1898.3,3994.9 1904.9,3993.3 1911.5,3995.2 1918.1,3996.7 1924.7,3998.0 1931.3,3999.4 1937.9,3999.4 1944.5,3999.4 1951.1,3999.4 1957.7,3999.4 1964.4,3999.4 1971.0,3999.4 1977.6,3999.4 1984.2,3999.4 1990.8,3999.4 1997.4,3999.4 2004.0,3999.4 2010.6,3999.4 2017.2,3999.4 2023.8,3999.4 2030.4,3999.4 2037.0,3999.4 2043.6,3999.4" fill="none" stroke="#000000" stroke-width="4.3" stroke-linejoin="round" stroke-linecap="round" shape-rendering="crispEdges"/>
</g>
<line x1="352.0" y1="4059.9" x2="352.0" y2="4094.4" stroke="#000" stroke-width="4.0" shape-rendering="crispEdges"/>
<line x1="682.4" y1="4059.9" x2="682.4" y2="4094.4" stroke="#000" stroke-width="4.0" shape-rendering="crispEdges"/>
<line x1="1012.8" y1="4059.9" x2="1012.8" y2="4094.4" stroke="#000" stroke-width="4.0" shape-rendering="crispEdges"/>
<line x1="1343.2" y1="4059.9" x2="1343.2" y2="4094.4" stroke="#000" stroke-width="4.0" shape-rendering="crispEdges"/>
<line x1="1673.6" y1="4059.9" x2="1673.6" y2="4094.4" stroke="#000" stroke-width="4.0" shape-rendering="crispEdges"/>
<line x1="2004.0" y1="4059.9" x2="2004.0" y2="4094.4" stroke="#000" stroke-width="4.0" shape-rendering="crispEdges"/>
<line x1="291.0" y1="3999.4" x2="258.0" y2="3999.4" stroke="#000" stroke-width="4.0" shape-rendering="crispEdges"/>
<line x1="291.0" y1="3760.6" x2="258.0" y2="3760.6" stroke="#000" stroke-width="4.0" shape-rendering="crispEdges"/>
<line x1="291.0" y1="3521.8" x2="258.0" y2="3521.8" stroke="#000" stroke-width="4.0" shape-rendering="crispEdges"/>
<line x1="291.0" y1="3283.0" x2="258.0" y2="3283.0" stroke="#000" stroke-width="4.0" shape-rendering="crispEdges"/>
<line x1="291.0" y1="3044.1" x2="258.0" y2="3044.1" stroke="#000" stroke-width="4.0" shape-rendering="crispEdges"/>
<line x1="291.0" y1="2805.3" x2="258.0" y2="2805.3" stroke="#000" stroke-width="4.0" shape-rendering="crispEdges"/>
<line x1="291.0" y1="2566.5" x2="258.0" y2="2566.5" stroke="#000" stroke-width="4.0" shape-rendering="crispEdges"/>
<g filter="url(#bin)">
<text x="351.6" y="1951.8" font-size="52.5" text-anchor="middle">0</text>
<text x="682.0" y="1951.8" font-size="52.5" text-anchor="middle">50</text>
<text x="1012.4" y="1951.8" font-size="52.5" text-anchor="middle">100</text>
<text x="1342.8" y="1951.8" font-size="52.5" text-anchor="middle">150</text>
<text x="1673.2" y="1951.8" font-size="52.5" text-anchor="middle">200</text>
<text x="2003.6" y="1951.8" font-size="52.5" text-anchor="middle">250</text>
<text transform="translate(214.7,1778.9) rotate(-90)" font-size="52.5" text-anchor="middle">0.000</text>
<text transform="translate(214.7,1472.5) rotate(-90)" font-size="52.5" text-anchor="middle">0.002</text>
<text transform="translate(214.7,1166.1) rotate(-90)" font-size="52.5" text-anchor="middle">0.004</text>
<text transform="translate(214.7,859.7) rotate(-90)" font-size="52.5" text-anchor="middle">0.006</text>
<text transform="translate(214.7,553.3) rotate(-90)" font-size="52.5" text-anchor="middle">0.008</text>
<text transform="translate(214.7,246.9) rotate(-90)" font-size="52.5" text-anchor="middle">0.010</text>
<text x="1202.4" y="101.6" font-size="61.52" font-style="italic" text-anchor="middle">Jensen−Shannon histogram centroid (non−matching support)</text>
<text x="1201.4" y="2078.8" font-size="52.15" text-anchor="middle">grey intensity value</text>
<text x="1201.9" y="2142.9" font-size="52.68" text-anchor="middle">partially zero−clamped Barbara/Lena grey histograms</text>
<text transform="translate(89.3,1024.0) rotate(-90)" font-size="52.5" text-anchor="middle">Percentage</text>
<text x="351.6" y="4173.5" font-size="52.5" text-anchor="middle">0</text>
<text x="682.0" y="4173.5" font-size="52.5" text-anchor="middle">50</text>
<text x="1012.4" y="4173.5" font-size="52.5" text-anchor="middle">100</text>
<text x="1342.8" y="4173.5" font-size="52.5" text-anchor="middle">150</text>
<text x="1673.2" y="4173.5" font-size="52.5" text-anchor="middle">200</text>
<text x="2003.6" y="4173.5" font-size="52.5" text-anchor="middle">250</text>
<text transform="translate(214.7,3999.4) rotate(-90)" font-size="52.5" text-anchor="middle">0.000</text>
<text transform="translate(214.7,3760.6) rotate(-90)" font-size="52.5" text-anchor="middle">0.002</text>
<text transform="translate(214.7,3521.8) rotate(-90)" font-size="52.5" text-anchor="middle">0.004</text>
<text transform="translate(214.7,3283.0) rotate(-90)" font-size="52.5" text-anchor="middle">0.006</text>
<text transform="translate(214.7,3044.1) rotate(-90)" font-size="52.5" text-anchor="middle">0.008</text>
<text transform="translate(214.7,2805.3) rotate(-90)" font-size="52.5" text-anchor="middle">0.010</text>
<text transform="translate(214.7,2566.5) rotate(-90)" font-size="52.5" text-anchor="middle">0.012</text>
<text x="1203.2" y="2322.1" font-size="61.37" font-style="italic" text-anchor="middle">Jensen−Shannon histogram centroid (disjoint support)</text>
<text x="1201.4" y="4299.3" font-size="52.15" text-anchor="middle">grey intensity value</text>
<text x="1201.9" y="4363.4" font-size="52.68" text-anchor="middle">partially zero−clamped Barbara/Lena grey histograms</text>
<text transform="translate(89.3,3244.4) rotate(-90)" font-size="52.5" text-anchor="middle">Percentage</text>
</g>
<g transform="translate(1012.4,1951.8)"><rect x="-40.21" y="-4.52" width="9.26" height="5.92" fill="#fff" shape-rendering="crispEdges"/><rect x="-25.61" y="-4.52" width="8.98" height="5.92" fill="#fff" shape-rendering="crispEdges"/></g>
<g transform="translate(1342.8,1951.8)"><rect x="-40.21" y="-4.52" width="9.26" height="5.92" fill="#fff" shape-rendering="crispEdges"/><rect x="-25.61" y="-4.52" width="8.98" height="5.92" fill="#fff" shape-rendering="crispEdges"/></g>
<g transform="translate(214.7,246.9) rotate(-90)"><rect x="10.88" y="-4.52" width="9.26" height="5.92" fill="#fff" shape-rendering="crispEdges"/><rect x="25.48" y="-4.52" width="8.98" height="5.92" fill="#fff" shape-rendering="crispEdges"/></g>
<g transform="translate(1012.4,4173.5)"><rect x="-40.21" y="-4.52" width="9.26" height="5.92" fill="#fff" shape-rendering="crispEdges"/><rect x="-25.61" y="-4.52" width="8.98" height="5.92" fill="#fff" shape-rendering="crispEdges"/></g>
<g transform="translate(1342.8,4173.5)"><rect x="-40.21" y="-4.52" width="9.26" height="5.92" fill="#fff" shape-rendering="crispEdges"/><rect x="-25.61" y="-4.52" width="8.98" height="5.92" fill="#fff" shape-rendering="crispEdges"/></g>
<g transform="translate(214.7,2805.3) rotate(-90)"><rect x="10.88" y="-4.52" width="9.26" height="5.92" fill="#fff" shape-rendering="crispEdges"/><rect x="25.48" y="-4.52" width="8.98" height="5.92" fill="#fff" shape-rendering="crispEdges"/></g>
<g transform="translate(214.7,2566.5) rotate(-90)"><rect x="10.88" y="-4.52" width="9.26" height="5.92" fill="#fff" shape-rendering="crispEdges"/><rect x="25.48" y="-4.52" width="8.98" height="5.92" fill="#fff" shape-rendering="crispEdges"/></g>
</svg></body></html>
